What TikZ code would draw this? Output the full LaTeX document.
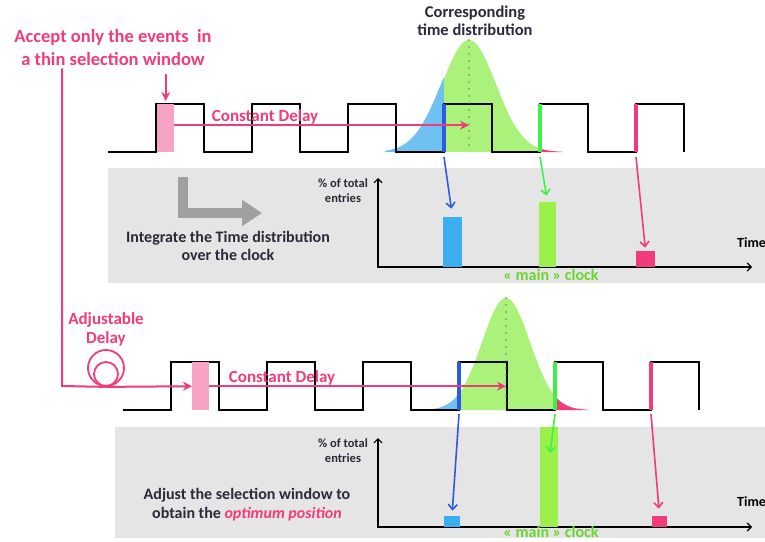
\documentclass[tikz,border=0pt]{standalone}
\usepackage{fontspec}
\setmainfont{Carlito}
\usepackage{tikz}
\usetikzlibrary{arrows.meta,positioning,calc}
\definecolor{rose}{HTML}{F03C7C}
\definecolor{winpink}{HTML}{F7A3C6}
\definecolor{tailblue}{HTML}{6EC1F0}
\definecolor{barblue}{HTML}{3AAEF0}
\definecolor{edgeblue}{HTML}{2B5BE0}
\definecolor{distgreen}{HTML}{AAF27A}
\definecolor{bargreen}{HTML}{9CF04A}
\definecolor{edgegreen}{HTML}{3FF04A}
\definecolor{clockgreen}{HTML}{6AD62C}
\definecolor{panelgray}{HTML}{E5E5E5}
\definecolor{arrowgray}{HTML}{A0A0A0}
\definecolor{ink}{HTML}{2A2A3A}
\definecolor{dotgray}{HTML}{6E8A5A}
\pgfmathdeclarefunction{gauss}{3}{\pgfmathparse{112*exp(-((#1-#2)^2)/(2*#3*#3))}}
\tikzset{
  clockline/.style={draw=black, line width=2.4pt, line join=miter},
  selwin/.style={rectangle, fill=winpink, inner sep=0pt,
    minimum width=17pt, minimum height=48pt, anchor=north west},
  edgemark/.style={draw=#1, line width=4pt},
  delayline/.style={draw=rose, line width=2pt},
  delayarrow/.style={draw=rose, line width=2pt, -{Stealth[length=9pt,width=9pt]}},
  hitarrow/.style={draw=#1, line width=1.6pt, -{Straight Barb[length=5pt,width=9pt]}},
  bar/.style={rectangle, fill=#1, inner sep=0pt, anchor=south},
  axis/.style={draw=black, line width=1.2pt,
    {Straight Barb[length=4pt,width=8pt]}-{Straight Barb[length=4pt,width=8pt]}},
  peakline/.style={draw=dotgray, line width=1.6pt, line cap=round,
    dash pattern=on 0pt off 7pt},
  knob/.style={circle, draw=rose, line width=1.8pt, inner sep=0pt},
  pinktext/.style={text=rose, align=center, inner sep=0pt,
    font=\bfseries\fontsize{17}{19}\selectfont},
  inktext/.style={text=ink, align=center, inner sep=0pt,
    font=\bfseries\fontsize{16}{17.5}\selectfont},
  axislabel/.style={text=ink, align=center, inner sep=0pt,
    font=\bfseries\fontsize{12.5}{15}\selectfont},
  timelabel/.style={inner sep=0pt, anchor=west,
    font=\bfseries\fontsize{14}{15}\selectfont},
  clocklabel/.style={text=clockgreen, inner sep=0pt,
    font=\bfseries\fontsize{16}{16}\selectfont},
}

\begin{document}
\begin{tikzpicture}[x=1pt, y=-1pt]
\useasboundingbox[fill=white] (0,0) rectangle (765,541);

% grey panels
\fill[panelgray] (108,168) rectangle (765,283);
\fill[panelgray] (115,427) rectangle (765,538);

% reference points
\coordinate (peak1) at (469,40);
\coordinate (peak2) at (506,298);
\coordinate (blueedge1) at (444,152);
\coordinate (greenedge1) at (540,152);
\coordinate (pinkedge1) at (636,152);
\coordinate (blueedge2) at (459,410);
\coordinate (greenedge2) at (555,410);
\coordinate (pinkedge2) at (651,410);

% upper time distribution
\fill[tailblue] (385,152) -- plot[domain=385:444, samples=40] (\x,{152-gauss(\x,469,28)}) -- (blueedge1) -- cycle;
\fill[distgreen] (blueedge1) -- plot[domain=444:540, samples=60] (\x,{152-gauss(\x,469,27)}) -- (greenedge1) -- cycle;
\fill[rose] (greenedge1) -- plot[domain=540:562, samples=20] (\x,{152-gauss(\x,469,27)}) -- (562,152) -- cycle;

% lower time distribution
\fill[tailblue] (412,410) -- plot[domain=412:459, samples=40] (\x,{410-gauss(\x,506,24)}) -- (blueedge2) -- cycle;
\fill[distgreen] (blueedge2) -- plot[domain=459:555, samples=60] (\x,{410-gauss(\x,506,24)}) -- (greenedge2) -- cycle;
\fill[rose] (greenedge2) -- plot[domain=555:588, samples=20] (\x,{410-gauss(\x,506,24)}) -- (588,410) -- cycle;

% clocks
\draw[clockline] (108,152) foreach \k in {156,252,...,636} { -- (\k,152) -- (\k,104) -- (\k+48,104) -- (\k+48,152) };
\draw[clockline] (123,410) foreach \k in {171,267,...,651} { -- (\k,410) -- (\k,362) -- (\k+48,362) -- (\k+48,410) };

\draw[peakline] (peak1) -- (peak1 |- blueedge1);
\draw[peakline] (peak2) -- (peak2 |- blueedge2);

\foreach \e/\c in {blueedge1/edgeblue, greenedge1/edgegreen, pinkedge1/rose,
                   blueedge2/edgeblue, greenedge2/edgegreen, pinkedge2/rose}
  \draw[edgemark=\c] (\e) -- ([yshift=48pt]\e);

% selection windows
\node[selwin] (win1) at (157,104) {};
\node[selwin] (win2) at (192,362) {};

% labels, top
\node[pinktext, font=\bfseries\fontsize{18.5}{23}\selectfont] (accept) at (113,48)
  {Accept only the events\ \ in\\a thin selection window};
\node[text=ink, align=center, inner sep=0pt, font=\bfseries\fontsize{16.5}{18}\selectfont]
  (corresp) at (475,21) {Corresponding\\time distribution};
\node[pinktext] (delay1) at (265,117) {Constant Delay};

\draw[delayarrow, shorten <=8pt, shorten >=3pt] (accept.south -| win1) -- (win1.north);
\draw[delayarrow] ([yshift=3pt]win1.east) -- ([yshift=3pt]win1.east -| peak1);

% adjustable delay
\coordinate (turn) at (62,386);
\node[knob, minimum size=36pt] (knobout) at (106,368) {};
\node[knob, minimum size=24pt] (knobin) at (106,374) {};
\node[pinktext, above=3pt of knobout] (adjust) {Adjustable\\Delay};
\draw[delayline] ([yshift=-2pt]accept.south -| turn) -- (turn) -- (knobout.south);
\draw[delayarrow] (knobout.south) -- (win2.west);
\node[pinktext] (delay2) at (282,378) {Constant Delay};
\draw[delayarrow] (win2.east) -- (win2.east -| peak2);

% upper histogram
\coordinate (origin1) at (378,267);
\draw[axis] ([yshift=89pt]origin1) -- (origin1) -- ++(374,0);
\node[axislabel] (entries1) at (343,191) {\% of total\\entries};
\node[timelabel] (time1) at (737,243) {Time};
\node[bar=barblue, minimum width=19pt, minimum height=50pt] (bluebar1) at (452.5,267) {};
\node[bar=bargreen, minimum width=17pt, minimum height=65pt] (greenbar1) at (547.5,267) {};
\node[bar=rose, minimum width=19pt, minimum height=16pt] (pinkbar1) at (645.5,267) {};
\node[clocklabel] (main1) at (551,275) {« main » clock};
\draw[hitarrow=edgeblue, shorten >=8pt] ([yshift=-5pt]blueedge1) -- (bluebar1.north);
\draw[hitarrow=edgegreen, shorten >=6pt] ([yshift=-5pt]greenedge1) -- (greenbar1.north);
\draw[hitarrow=rose, shorten >=3pt] ([yshift=-5pt]pinkedge1) -- (pinkbar1.north);

% grey turning arrow
\coordinate (bend) at (183,213);
\draw[arrowgray, line width=10pt, line join=miter, -{Triangle[length=20pt,width=25pt]}]
  ([yshift=36pt]bend) -- (bend) -- ++(79,0);
\node[inktext] (integrate) at (228,246) {Integrate the Time distribution\\over the clock};

% lower histogram
\coordinate (origin2) at (378,527);
\draw[axis] ([yshift=89pt]origin2) -- (origin2) -- ++(374,0);
\node[axislabel] (entries2) at (343,451) {\% of total\\entries};
\node[timelabel] (time2) at (737,502) {Time};
\node[bar=barblue, minimum width=16pt, minimum height=11pt] (bluebar2) at (452,527) {};
\node[bar=bargreen, minimum width=18pt, minimum height=100pt] (greenbar2) at (549,527) {};
\node[bar=rose, minimum width=15pt, minimum height=11pt] (pinkbar2) at (659.5,527) {};
\node[clocklabel] (main2) at (551,532) {« main » clock};
\coordinate (greenhit2) at (550,453);
\draw[hitarrow=edgeblue, shorten >=5pt] ([yshift=-4pt]blueedge2) -- (bluebar2.north);
\draw[hitarrow=edgegreen] ([yshift=-4pt]greenedge2) -- (greenhit2);
\draw[hitarrow=rose, shorten >=7pt] ([yshift=-4pt]pinkedge2) -- (pinkbar2.north);
\node[inktext, font=\bfseries\fontsize{16}{19}\selectfont] (optimum) at (247,505)
  {Adjust the selection window to\\obtain the \textcolor{rose}{\itshape optimum position}};
\end{tikzpicture}
\end{document}
